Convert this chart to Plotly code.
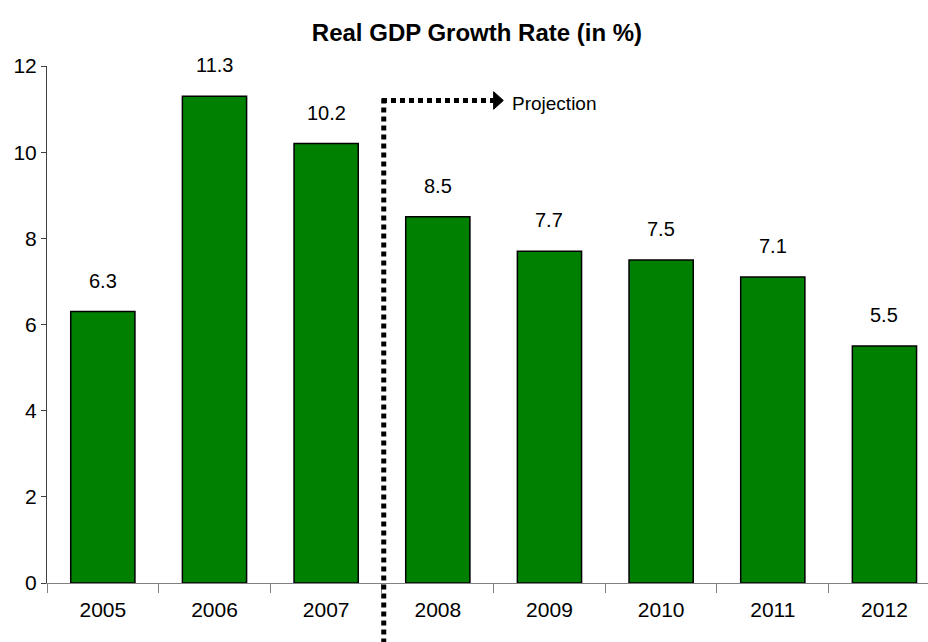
import plotly.graph_objects as go

years = ["2005", "2006", "2007", "2008", "2009", "2010", "2011", "2012"]
growth = [6.3, 11.3, 10.2, 8.5, 7.7, 7.5, 7.1, 5.5]
y_ticks = [0, 2, 4, 6, 8, 10, 12]
title_text = "Real GDP Growth Rate (in %)"
projection_label = "Projection"
projection_start_index = 3  # first projected year (2008)

FONT = "Liberation Sans Narrow, Arial Narrow, Liberation Sans, Arial, sans-serif"
X_RANGE = [-0.5, 7.39]
Y_RANGE = [0, 12]

fig = go.Figure()
fig.add_trace(go.Bar(
    x=list(range(len(years))), y=growth,
    marker=dict(color="#008000", line=dict(color="black", width=1.5)),
    width=0.575,
    hovertext=years, hoverinfo="text+y",
))

for i, v in enumerate(growth):
    fig.add_annotation(x=i, y=v, text=f"{v:.1f}", showarrow=False,
                       yanchor="middle", yshift=31,
                       font=dict(family=FONT, size=20, color="black"))

# projection divider (boundary between 2007 and 2008)
bx = projection_start_index - 0.5
px = (bx - X_RANGE[0]) / (X_RANGE[1] - X_RANGE[0])
py_top = 11.2 / Y_RANGE[1]
fig.add_shape(type="line", xref="paper", yref="paper",
              x0=px + 0.002, x1=px + 0.002, y0=py_top + 0.004, y1=-0.2,
              line=dict(color="black", width=5, dash="5px,4px"))
arrow_end = (bx + 1.0 - X_RANGE[0]) / (X_RANGE[1] - X_RANGE[0])
fig.add_shape(type="line", xref="paper", yref="paper",
              x0=px, x1=arrow_end, y0=py_top, y1=py_top,
              line=dict(color="black", width=5, dash="5px,4px"))
tri_w = 0.011
fig.add_shape(type="path", xref="paper", yref="paper",
              path=f"M {arrow_end} {py_top + 0.017} L {arrow_end + tri_w} {py_top} L {arrow_end} {py_top - 0.017} Z",
              fillcolor="black", line=dict(color="black", width=1))
fig.add_annotation(xref="paper", yref="paper", x=arrow_end + tri_w + 0.008, y=py_top - 0.006,
                   text=projection_label, showarrow=False, xanchor="left", yanchor="middle",
                   font=dict(family=FONT, size=19, color="black"))

fig.update_layout(
    width=928, height=642,
    margin=dict(l=47, r=0, t=66, b=59),
    plot_bgcolor="white", paper_bgcolor="white",
    showlegend=False,
    title=dict(text=f"<b>{title_text}</b>", x=0.514, xanchor="center", y=0.9486, yanchor="middle",
               font=dict(family=FONT, size=24, color="black")),
    font=dict(family=FONT, size=20, color="black"),
    xaxis=dict(range=X_RANGE, type="linear", tickmode="array",
               tickvals=list(range(len(years))), ticktext=years,
               showline=True, linecolor="#808080", linewidth=1,
               ticks="", tickfont=dict(family=FONT, size=21, color="black"),
               ticklabelstandoff=8, showgrid=False, zeroline=False, fixedrange=True),
    xaxis2=dict(range=X_RANGE, overlaying="x", side="bottom", anchor="y",
                tickmode="array", tickvals=[i - 0.5 for i in range(len(years) + 1)],
                ticktext=[""] * (len(years) + 1),
                ticks="outside", ticklen=9, tickcolor="#808080",
                showline=False, showgrid=False, zeroline=False, fixedrange=True),
    yaxis=dict(range=Y_RANGE, tickvals=y_ticks, showline=True, linecolor="#404040", linewidth=1,
               ticks="outside", ticklen=5, tickcolor="#404040",
               tickfont=dict(family=FONT, size=21, color="black"),
               showgrid=False, zeroline=False, fixedrange=True),
)
# invisible helper trace so the boundary-tick axis is drawn
fig.add_trace(go.Scatter(x=[X_RANGE[0]], y=[0], xaxis="x2", mode="markers",
                         marker=dict(opacity=0), hoverinfo="skip", showlegend=False))

fig.write_html("out.html", config={"displayModeBar": False},
               post_script="document.body.style.margin='0';")
